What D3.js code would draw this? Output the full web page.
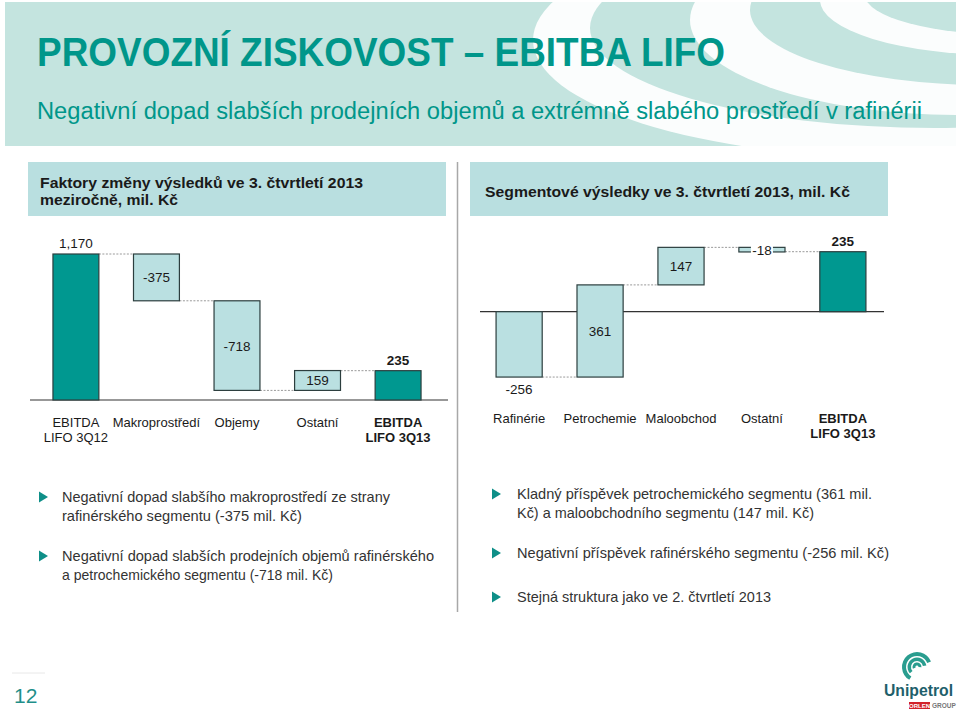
<!DOCTYPE html>
<html>
<head>
<meta charset="utf-8">
<script src="https://cdn.jsdelivr.net/npm/d3@7"></script>
<style>
  html, body { margin: 0; padding: 0; background: #ffffff; }
  svg { display: block; }
  text { font-family: "Liberation Sans", Arial, Helvetica, sans-serif; }
</style>
</head>
<body>
<svg id="chart" width="960" height="711"></svg>
<script>
// ---------------- DATA ----------------
const titleText = "PROVOZNÍ ZISKOVOST – EBITBA LIFO";
const subtitleText = "Negativní dopad slabších prodejních objemů a extrémně slabého prostředí v rafinérii";

const leftHeader = ["Faktory změny výsledků ve 3. čtvrtletí 2013", "meziročně, mil. Kč"];
const rightHeader = ["Segmentové výsledky ve 3. čtvrtletí 2013, mil. Kč"];

const leftCategories = ["EBITDA\nLIFO 3Q12", "Makroprostředí", "Objemy", "Ostatní", "EBITDA\nLIFO 3Q13"];
const leftValues = [1170, -375, -718, 159, 235];
const leftIsTotal = [true, false, false, false, true];

const rightCategories = ["Rafinérie", "Petrochemie", "Maloobchod", "Ostatní", "EBITDA\nLIFO 3Q13"];
const rightValues = [-256, 361, 147, -18, 235];
const rightIsTotal = [false, false, false, false, true];

const leftBullets = [
  ["Negativní dopad slabšího makroprostředí ze strany", "rafinérského segmentu (-375 mil. Kč)"],
  ["Negativní dopad slabších prodejních objemů rafinérského", "a petrochemického segmentu (-718 mil. Kč)"]
];
const rightBullets = [
  ["Kladný příspěvek petrochemického segmentu (361 mil.", "Kč) a maloobchodního segmentu (147 mil. Kč)"],
  ["Negativní příspěvek rafinérského segmentu (-256 mil. Kč)"],
  ["Stejná struktura jako ve 2. čtvrtletí 2013"]
];
const pageNumber = "12";

// ---------------- STYLE ----------------
const C = {
  banner: "#c4e4df",
  teal: "#00968a",
  totalBar: "#009890",
  deltaBar: "#bae0e1",
  header: "#b9dfe0",
  stroke: "#2c3e3e",
  text: "#1a1a1a",
  bullet: "#333333",
  divider: "#a8a8a8"
};

const svg = d3.select("#chart");

// ---------------- BANNER ----------------
svg.append("defs").append("clipPath").attr("id", "bannerClip")
  .append("rect").attr("x", 5).attr("y", 2).attr("width", 951).attr("height", 144);

svg.append("rect").attr("x", 5).attr("y", 2).attr("width", 951).attr("height", 144).attr("fill", C.banner);

// decorative swirl: alternating white / banner ellipses produce crescents
const swirl = svg.append("g").attr("clip-path", "url(#bannerClip)");
const swirlRings = [
  [905, 40, 372, 118, "#ffffff"],
  [935, 28, 345, 100, C.banner],
  [960, 20, 270, 95, "#ffffff"],
  [985, 10, 235, 75, C.banner],
  [1000, 0, 180, 55, "#ffffff"],
  [1015, -5, 150, 40, C.banner]
];
swirlRings.forEach(([cx, cy, rx, ry, fill]) => {
  swirl.append("ellipse").attr("cx", cx).attr("cy", cy).attr("rx", rx).attr("ry", ry)
    .attr("fill", fill).attr("fill-opacity", fill === "#ffffff" ? 0.92 : 1);
});

svg.append("text").attr("x", 37).attr("y", 66)
  .attr("font-size", 40).attr("font-weight", "bold").attr("fill", C.teal)
  .attr("textLength", 688).attr("lengthAdjust", "spacingAndGlyphs")
  .text(titleText);

svg.append("text").attr("x", 37).attr("y", 119)
  .attr("font-size", 23).attr("fill", C.teal)
  .attr("textLength", 885).attr("lengthAdjust", "spacingAndGlyphs")
  .text(subtitleText);

// ---------------- SECTION HEADERS ----------------
svg.append("rect").attr("x", 28).attr("y", 162).attr("width", 418).attr("height", 54).attr("fill", C.header);
svg.append("rect").attr("x", 470).attr("y", 162).attr("width", 418).attr("height", 54).attr("fill", C.header);

const lhLens = [323, 138];
leftHeader.forEach((t, i) => {
  svg.append("text").attr("x", 40).attr("y", 188 + i * 17)
    .attr("font-size", 15.5).attr("font-weight", "bold").attr("fill", C.text)
    .attr("textLength", lhLens[i]).attr("lengthAdjust", "spacingAndGlyphs")
    .text(t);
});
svg.append("text").attr("x", 485).attr("y", 197)
  .attr("font-size", 15.5).attr("font-weight", "bold").attr("fill", C.text)
  .attr("textLength", 365).attr("lengthAdjust", "spacingAndGlyphs")
  .text(rightHeader[0]);

// divider
svg.append("line").attr("x1", 457.5).attr("x2", 457.5).attr("y1", 162).attr("y2", 612)
  .attr("stroke", C.divider).attr("stroke-width", 1.5);

// ---------------- WATERFALL ----------------
const locale = d3.formatLocale({ decimal: ".", thousands: ",", grouping: [3], currency: ["", ""], minus: "-" });
const fmt = locale.format(",");

function waterfall(opts) {
  const { categories, values, isTotal, xRange, yDomain, yRange, baseX, catY, labelPlace } = opts;
  const g = svg.append("g");
  const x = d3.scaleBand().domain(categories).range(xRange).paddingInner(0.43).paddingOuter(0.285);
  const y = d3.scaleLinear().domain(yDomain).range(yRange);

  let run = 0;
  const segs = values.map((v, i) => {
    let y0, y1;
    if (isTotal[i]) { y0 = 0; y1 = v; run = v; }
    else { y0 = run; y1 = run + v; run = y1; }
    return { cat: categories[i], v, y0, y1, end: y1, total: isTotal[i], i };
  });

  // connectors
  segs.slice(0, -1).forEach((s, i) => {
    const n = segs[i + 1];
    const lvl = n.total ? n.y1 : s.end;
    g.append("line")
      .attr("x1", x(s.cat) + x.bandwidth()).attr("x2", x(n.cat))
      .attr("y1", y(lvl)).attr("y2", y(lvl))
      .attr("stroke", "#9a9a9a").attr("stroke-width", 1).attr("stroke-dasharray", "2,1.5");
  });

  // baseline
  g.append("line").attr("x1", baseX[0]).attr("x2", baseX[1])
    .attr("y1", y(0)).attr("y2", y(0)).attr("stroke", "#333").attr("stroke-width", 1.2);

  // bars
  g.selectAll("rect.bar").data(segs).enter().append("rect")
    .attr("class", "bar")
    .attr("x", d => x(d.cat))
    .attr("width", x.bandwidth())
    .attr("y", d => y(Math.max(d.y0, d.y1)))
    .attr("height", d => Math.abs(y(d.y0) - y(d.y1)))
    .attr("fill", d => d.total ? C.totalBar : C.deltaBar)
    .attr("stroke", C.stroke).attr("stroke-width", 1.2);

  // value labels
  segs.forEach((d, i) => {
    const cx = x(d.cat) + x.bandwidth() / 2;
    const top = y(Math.max(d.y0, d.y1)), bot = y(Math.min(d.y0, d.y1));
    const place = labelPlace[i];
    let ty;
    if (place === "above") ty = top - 6;
    else if (place === "below") ty = bot + 17;
    else ty = (top + bot) / 2 + 5;
    if (place === "badge") {
      g.append("rect").attr("x", cx - 11).attr("y", (top + bot) / 2 - 8)
        .attr("width", 22).attr("height", 16).attr("fill", "#fff");
    }
    g.append("text").attr("x", cx).attr("y", ty)
      .attr("text-anchor", "middle").attr("font-size", 13.5)
      .attr("font-weight", i === segs.length - 1 ? "bold" : "normal")
      .attr("fill", C.text)
      .text(fmt(d.v));
  });

  // category labels
  categories.forEach((c, i) => {
    const t = g.append("text").attr("x", x(c) + x.bandwidth() / 2).attr("y", catY)
      .attr("text-anchor", "middle").attr("font-size", 13)
      .attr("font-weight", i === categories.length - 1 ? "bold" : "normal")
      .attr("fill", C.text);
    c.split("\n").forEach((line, k) => {
      t.append("tspan").attr("x", x(c) + x.bandwidth() / 2).attr("dy", k === 0 ? 0 : 15.5).text(line);
    });
  });
}

waterfall({
  categories: leftCategories, values: leftValues, isTotal: leftIsTotal,
  xRange: [30, 444], yDomain: [0, 1170], yRange: [400, 254],
  baseX: [30, 448], catY: 426.5,
  labelPlace: ["above", "inside", "inside", "inside", "above"]
});

waterfall({
  categories: rightCategories, values: rightValues, isTotal: rightIsTotal,
  xRange: [473, 889], yDomain: [0, 235], yRange: [311.7, 251.7],
  baseX: [480, 884], catY: 422.5,
  labelPlace: ["below", "inside", "inside", "badge", "above"]
});

// ---------------- BULLETS ----------------
function bullets(list, tx, textX, startYs, lens) {
  list.forEach((lines, i) => {
    const by = startYs[i];
    svg.append("path")
      .attr("d", `M${tx},${by - 10.5} L${tx + 9},${by - 5} L${tx},${by + 0.5} Z`)
      .attr("fill", "#0e8f88");
    lines.forEach((line, k) => {
      svg.append("text").attr("x", textX).attr("y", by + k * 18.5)
        .attr("font-size", 15).attr("fill", C.bullet)
        .attr("textLength", lens[i][k]).attr("lengthAdjust", "spacingAndGlyphs")
        .text(line);
    });
  });
}
bullets(leftBullets, 39, 62, [502, 561], [[328, 240], [372, 271]]);
bullets(rightBullets, 492, 517, [499, 558, 602], [[355, 297], [372], [254]]);

// ---------------- FOOTER ----------------
svg.append("line").attr("x1", 12).attr("x2", 45).attr("y1", 673).attr("y2", 673)
  .attr("stroke", "#e8e8e8").attr("stroke-width", 1);
svg.append("text").attr("x", 14).attr("y", 703).attr("font-size", 21).attr("fill", "#1f8f8a").text(pageNumber);

// logo
const logo = svg.append("g").attr("transform", "translate(917,667)");
const arc = d3.arc();
[[11, 15, -2.6, 1.2], [6, 9.5, -2.3, 1.4], [1.5, 4.5, -2.0, 1.6]].forEach(([ri, ro, a0, a1]) => {
  logo.append("path").attr("d", arc({ innerRadius: ri, outerRadius: ro, startAngle: a0, endAngle: a1 }))
    .attr("fill", "#2a9d8f");
});
svg.append("text").attr("x", 884).attr("y", 696).attr("font-size", 16).attr("font-weight", "bold")
  .attr("fill", "#1f5f6b").attr("textLength", 69).attr("lengthAdjust", "spacingAndGlyphs").text("Unipetrol");
svg.append("rect").attr("x", 909).attr("y", 702).attr("width", 21).attr("height", 7).attr("fill", "#d2232a");
svg.append("text").attr("x", 919.5).attr("y", 708).attr("text-anchor", "middle").attr("font-size", 6)
  .attr("font-weight", "bold").attr("fill", "#fff").text("ORLEN");
svg.append("text").attr("x", 932).attr("y", 708).attr("font-size", 6.5).attr("font-weight", "bold")
  .attr("fill", "#777").text("GROUP");
</script>
</body>
</html>
